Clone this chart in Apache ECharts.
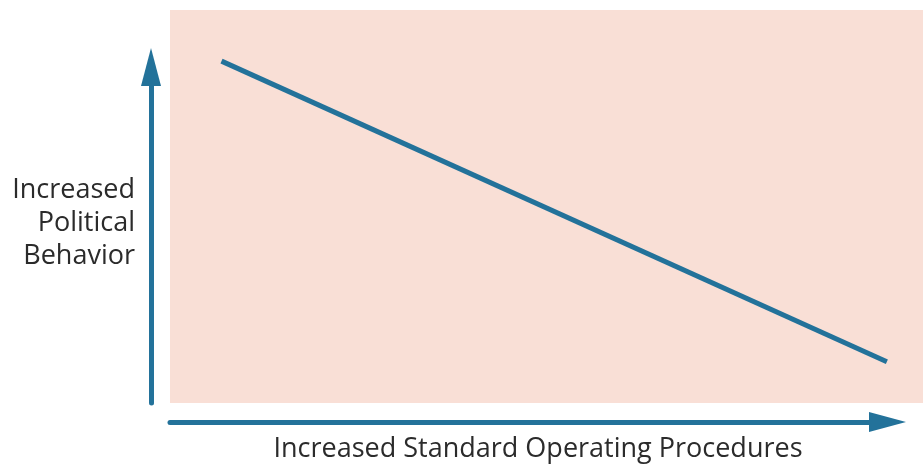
<!DOCTYPE html>
<html>
<head>
<meta charset="utf-8">
<script src="https://cdn.jsdelivr.net/npm/echarts@6/dist/echarts.min.js"></script>
<style>
  html, body { margin: 0; padding: 0; background: #fff; }
  #chart { width: 923px; height: 465px; }
</style>
</head>
<body>
<div id="chart"></div>
<script>
// conceptual line: more SOPs -> less political behavior
const sopLevel = [0.70, 9.74]
const politicalBehavior = [9.63, 1.16]
const xTitle = 'Increased Standard Operating Procedures'
const yTitle = 'Increased\nPolitical\nBehavior'

const blue = '#23729a'
const pink = '#f9dfd6'

const hidden = {
  splitLine: { show: false },
  axisTick: { show: false },
  axisLabel: { show: false }
}
// arrow axis style, the triangle sits past the end of the axis line
function arrowLine(len) {
  return {
    show: true,
    onZero: false,
    symbol: ['none', 'triangle'],
    symbolSize: [20, len],
    symbolOffset: [0, len / 2],
    lineStyle: { color: blue, width: 5 }
  }
}

const chart = echarts.init(document.getElementById('chart'))

chart.setOption({
  animation: false,
  grid: [
    // data area
    { left: 170, right: 17, top: 48, bottom: 62 },
    // arrow axes
    { left: 170, right: 54, top: 86, bottom: 62 }
  ],
  xAxis: [
    Object.assign({ type: 'value', gridIndex: 0, min: 0, max: 10, axisLine: { show: false } }, hidden),
    Object.assign({ type: 'value', gridIndex: 1, min: 0, max: 10, offset: 19, axisLine: arrowLine(37) }, hidden)
  ],
  yAxis: [
    Object.assign({ type: 'value', gridIndex: 0, min: 0, max: 10, axisLine: { show: false } }, hidden),
    Object.assign({ type: 'value', gridIndex: 1, min: 0, max: 10, offset: 19, axisLine: arrowLine(38) }, hidden)
  ],
  graphic: [
    {
      type: 'rect',
      z: -10,
      silent: true,
      shape: { x: 170, y: 10, width: 753, height: 393 },
      style: { fill: pink }
    },
    {
      type: 'text',
      x: 135,
      y: 223,
      style: {
        text: yTitle,
        align: 'right',
        verticalAlign: 'middle',
        lineHeight: 33,
        font: '27px "Open Sans"',
        fill: '#2b2b2b'
      }
    },
    {
      type: 'text',
      x: 538,
      y: 449,
      style: {
        text: xTitle,
        align: 'center',
        verticalAlign: 'middle',
        font: '27px "Open Sans"',
        fill: '#2b2b2b'
      }
    }
  ],
  series: [{
    type: 'line',
    xAxisIndex: 0,
    yAxisIndex: 0,
    symbol: 'none',
    data: sopLevel.map((x, i) => [x, politicalBehavior[i]]),
    lineStyle: { color: blue, width: 5, cap: 'butt' }
  }]
})
</script>
</body>
</html>
